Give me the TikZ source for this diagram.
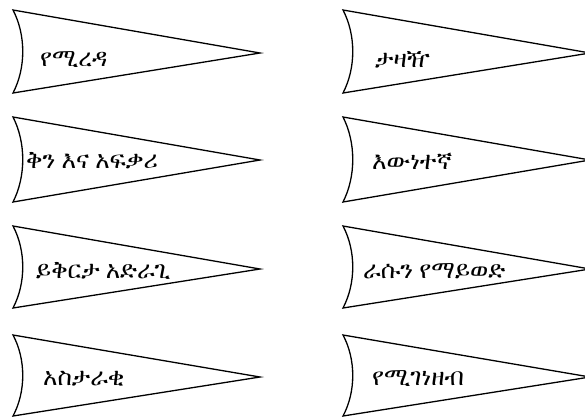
\documentclass[tikz,border=0pt]{standalone}
\usepackage{fontspec}
\IfFontExistsTF{FreeSerif}{\newfontfamily\ethfont{FreeSerif}}{%
 \IfFontExistsTF{FreeSerif.otf}{\newfontfamily\ethfont{FreeSerif.otf}}{%
  \IfFontExistsTF{Abyssinica SIL}{\newfontfamily\ethfont{Abyssinica SIL}}{%
   \IfFontExistsTF{Ethiopia Jiret}{\newfontfamily\ethfont{Ethiopia Jiret}}{%
    \newfontfamily\ethfont{DejaVu Sans}}}}}
\begin{document}
\begin{tikzpicture}[x=1pt,y=-1pt,
  pennant/.style={draw=black,line width=1.3pt,line join=miter},
  lbl/.style={anchor=west,inner sep=0pt,font=\ethfont\fontsize{24.5}{28}\selectfont}]
\useasboundingbox (0,0) rectangle (585,418);
% pennant shapes
\foreach \xo/\yt/\yb/\ym in {13/10/93/53, 13/117/202/160, 13/226/308/269, 13/335/416/377,
                             343/10/93/53, 343/117/202/160, 343/226/308/269, 343/335/416/377}{
  \draw[pennant] (\xo,\yt) .. controls (\xo+13,{\yt+0.3*(\yb-\yt)}) and (\xo+13,{\yt+0.7*(\yb-\yt)}) .. (\xo,\yb)
     -- (\xo+247,\ym) -- cycle;
}
\node[lbl] (l1) at (40,60) {የሚረዳ};
\node[lbl] (l2) at (26,161) {ቅን እና አፍቃሪ};
\node[lbl] (l3) at (36,271) {ይቅርታ አድራጊ};
\node[lbl] (l4) at (43,379) {አስታራቂ};
\node[lbl] (r1) at (375,60) {ታዛዥ};
\node[lbl] (r2) at (372,161) {እውነተኛ};
\node[lbl] (r3) at (363,271) {ራሱን የማይወድ};
\node[lbl] (r4) at (372,379) {የሚገነዘብ};
\end{tikzpicture}
\end{document}
